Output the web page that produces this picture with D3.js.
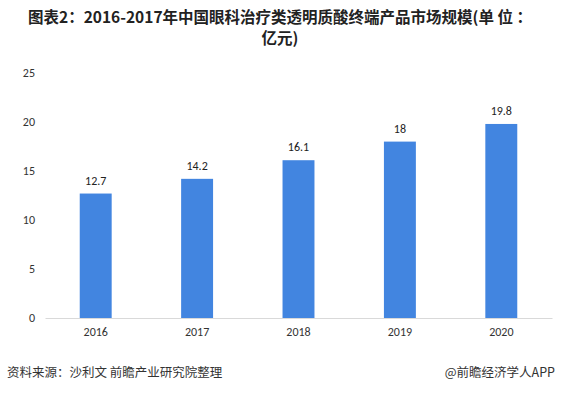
<!DOCTYPE html>
<html><head><meta charset="utf-8">
<script src="https://cdn.jsdelivr.net/npm/d3@7"></script>
<style>body{margin:0;background:#fff;}svg{display:block;font-family:"Microsoft YaHei","Noto Sans CJK SC",sans-serif;}</style>
</head><body><svg id="c" width="561" height="393"></svg>
<script>
const categories = ["2016","2017","2018","2019","2020"];
const values = [12.7, 14.2, 16.1, 18, 19.8];
const yTicks = [0,5,10,15,20,25];
const titleLines = ["图表2：2016-2017年中国眼科治疗类透明质酸终端产品市场规模(单 位 ：","亿元)"];
const source = "资料来源：沙利文 前瞻产业研究院整理";
const brand = "@前瞻经济学人APP";

const svg = d3.select("#c");
const x = d3.scaleBand().domain(categories).range([45, 552]).paddingInner(0.685).paddingOuter(0.3425);
const y = d3.scaleLinear().domain([0, 25]).range([318, 73]);

svg.append("g").selectAll("text").data(titleLines).join("text")
  .attr("x", 280).attr("y", (d,i)=>23+i*21).attr("text-anchor","middle")
  .attr("font-size",15.5).attr("font-weight","bold").attr("fill","#222").text(d=>d);

const ya = svg.append("g").attr("transform","translate(35,0)")
  .call(d3.axisLeft(y).tickValues(yTicks).tickSize(0).tickPadding(0));
ya.select(".domain").remove();
ya.selectAll("text").attr("font-size",12).attr("fill","#333").attr("font-family","Calibri,'Liberation Sans',sans-serif");

svg.append("g").selectAll("rect").data(values).join("rect")
  .attr("x",(d,i)=>x(categories[i])).attr("width",x.bandwidth())
  .attr("y",d=>y(d)).attr("height",d=>y(0)-y(d)).attr("fill","#4285e0");

const xa = svg.append("g").attr("transform","translate(0,318)")
  .call(d3.axisBottom(x).tickSize(0).tickPadding(9));
xa.select(".domain").attr("stroke","#d9d9d9").attr("stroke-width",1);
xa.selectAll("text").attr("font-size",12).attr("fill","#333").attr("font-family","Calibri,'Liberation Sans',sans-serif");

svg.append("g").selectAll("text").data(values).join("text")
  .attr("x",(d,i)=>x(categories[i])+x.bandwidth()/2).attr("y",d=>y(d)-9)
  .attr("text-anchor","middle").attr("font-size",12).attr("fill","#222")
  .attr("font-family","Calibri,'Liberation Sans',sans-serif").text(d=>d);

svg.append("text").attr("x",7).attr("y",377).attr("font-size",12.5).attr("fill","#333").text(source);
svg.append("text").attr("x",555).attr("y",377).attr("text-anchor","end").attr("font-size",12.5).attr("fill","#333").text(brand);
</script></body></html>
